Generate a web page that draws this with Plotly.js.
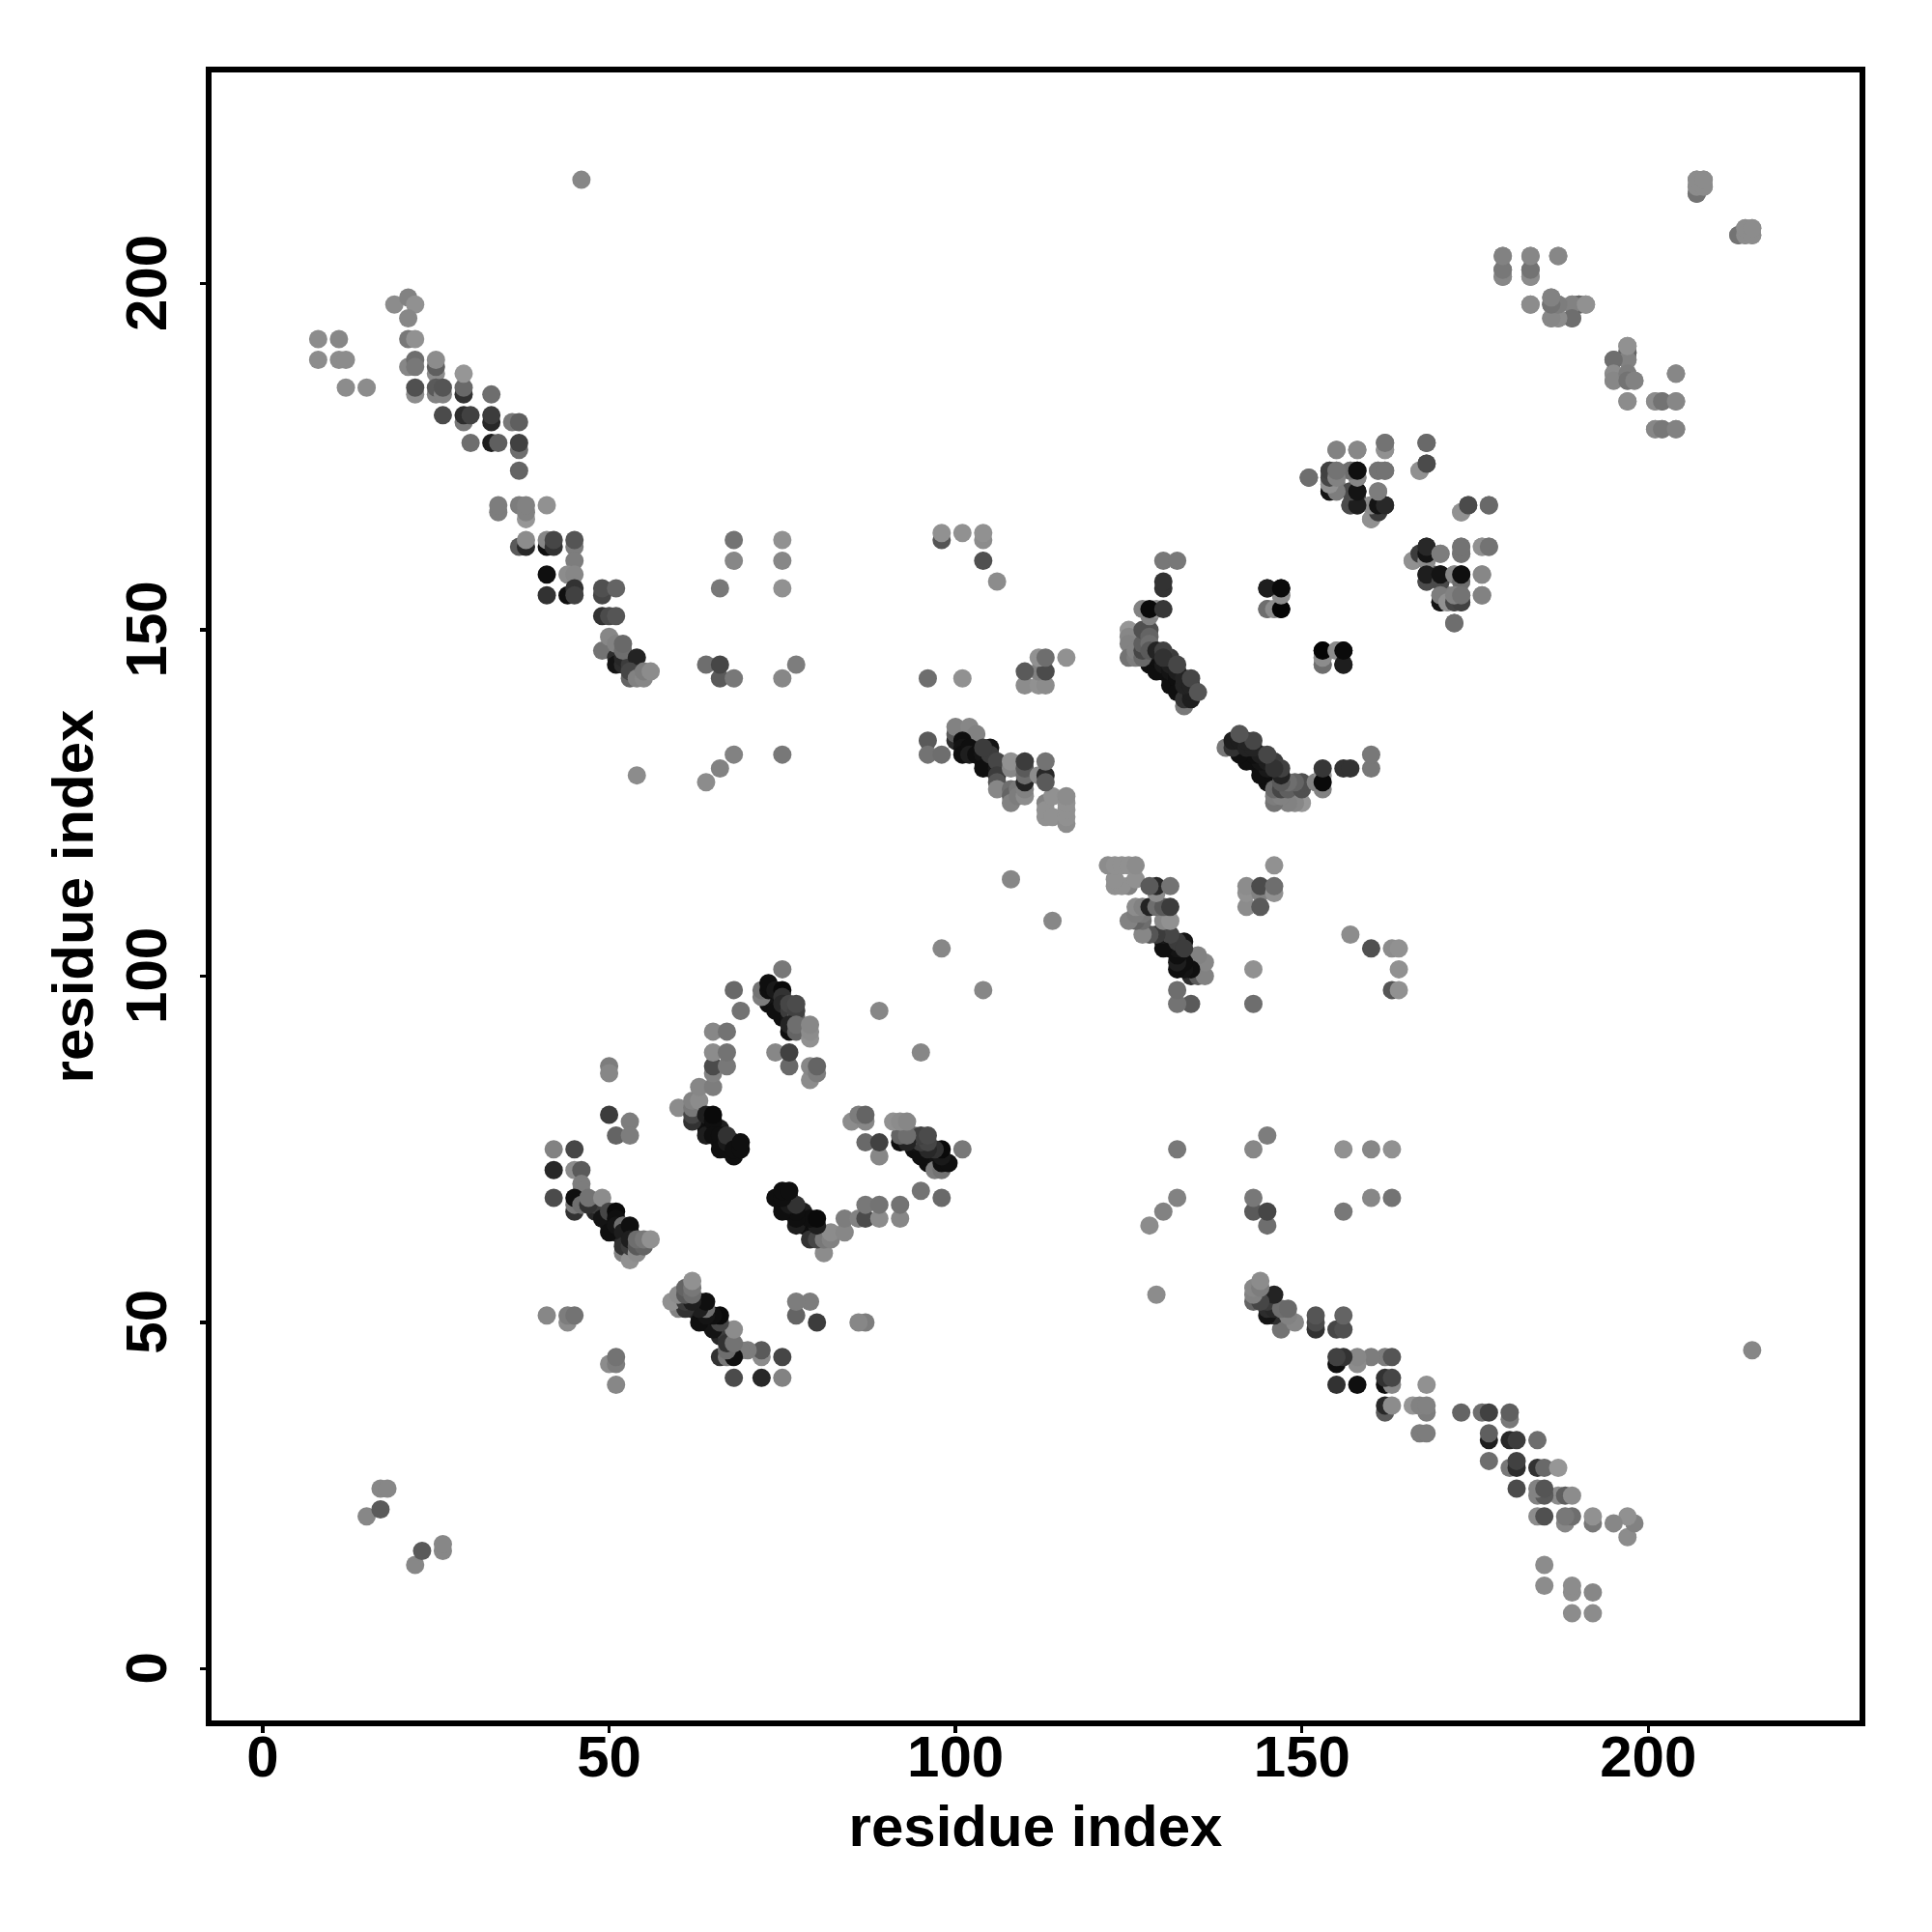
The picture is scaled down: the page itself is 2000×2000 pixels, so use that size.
<!DOCTYPE html>
<html>
<head>
<meta charset="utf-8">
<script src="https://cdn.plot.ly/plotly-3.0.1.min.js"></script>
<style>html,body{margin:0;padding:0;background:#fff}</style>
</head>
<body>
<div id="chart" style="width:2000px;height:2000px"></div>
<script>
// Each contact is [residue i, residue j, grey level]; the map is symmetric in i and j.
const tickValues = [0, 50, 100, 150, 200];
const axisTitle = "residue index";
const contactsFar = [[15,22,135],[17,23,90],[17,26,135],[18,26,135],[46,215,135],[89,95,135],[98,104,135],[108,114,135]];
const contactsBandN = [[8,192,140],[11,192,135],[8,189,140],[11,189,140],[12,189,140],[12,185,140],[15,185,140],
 [19,197,140],[21,198,130],[22,197,145],[21,195,135],[21,192,120],[22,192,145],[21,188,135],[22,189,110],[22,188,120],
 [25,187,140],[25,188,95],[25,189,140],[29,184,50],[29,185,105],[29,187,150],
 [22,184,140],[22,185,80],[25,184,130],[25,185,90],[26,184,130],[26,185,85],[33,184,110],
 [29,180,120],[26,181,75],[29,181,45],[30,181,65],[33,180,40],[33,181,60],[36,180,120],[37,180,95],
 [30,177,110],[33,177,30],[34,177,95],[37,176,110],[37,177,65],[37,173,100]];
const contactsBandM = [[34,167,125],[34,168,125],[37,168,125],[38,166,150],[38,167,130],[38,168,130],[41,168,145],
 [37,162,90],[38,162,40],[38,163,140],[41,162,15],[41,163,135],[42,162,50],[42,163,70],[45,162,125],[45,163,85],
 [45,160,125],[44,158,140],[45,158,135],[41,158,15],[41,155,50],[44,155,15],[45,156,50],[45,155,65],
 [49,155,70],[49,156,80],[51,156,100],[49,152,50],[50,152,75],[51,152,85],
 [49,147,115],[50,149,135],[51,146,45],[51,145,20],[52,145,45],[52,146,40],[53,145,60],[51,148,130],[52,147,110],[52,148,105],[54,146,35],
 [53,143,100],[53,144,70],[54,143,130],[55,143,135],[55,144,125],[56,144,140]];
const contactsSide = [[68,163,115],[75,163,145],[68,160,135],[75,160,135],[66,156,120],[75,156,145],
 [64,145,110],[66,143,90],[66,145,70],[68,143,120],[77,145,125],[75,143,135],[68,132,130],[75,132,120],[66,130,130],[64,128,140],[54,129,140],
 [98,163,85],[98,164,145],[101,164,145],[104,163,140],[104,164,145],[104,160,80],[106,157,140],[96,143,110],[101,143,145],
 [110,142,140],[112,142,145],[113,142,140],[112,144,130],[110,144,90],[113,144,75],[112,146,145],[113,146,110],[116,146,145]];
const contactsSheetA = [[96,134,90],[96,132,115],[98,132,110],
 [102,134,20],[103,133,15],[104,131,15],[105,131,15],[105,130,20],
 [100,134,45],[100,135,90],[100,136,130],[102,136,135],[103,135,130],[101,134,15],[101,133,20],[101,132,15],[102,133,15],[102,132,30],
 [103,132,15],[104,132,20],[104,130,15],[105,133,20],[105,132,60],[104,133,60],
 [106,130,25],[106,131,70],[106,129,60],[106,128,85],[106,127,135],
 [108,127,110],[108,126,100],[108,125,130],[108,130,135],[108,131,145],[109,127,120],[109,126,125],
 [110,126,140],[110,127,130],[110,128,35],[110,129,110],[110,130,90],[110,131,60],
 [112,129,140],[113,125,130],[113,123,145],[113,124,145],[114,123,145],[114,126,145],[113,129,40],[113,131,115],[113,128,90],
 [116,122,140],[116,123,145],[116,124,145],[116,125,145],[116,126,140]];
const contactsSheetB = [[129,145,15],[130,144,15],[131,143,15],[132,142,15],
 [128,145,15],[128,146,15],[129,144,15],[129,146,15],[130,145,25],[131,142,15],[131,144,20],[132,143,15],[133,141,15],[132,141,15],
 [133,139,120],[133,140,50],[134,140,30],[134,141,30],[125,150,150],[125,149,135],[125,148,130],[125,146,115],[126,146,125],[126,147,130],
 [127,146,105],[127,147,70],[127,148,95],[127,150,80],[128,150,80],[128,149,100],[128,148,110],[128,147,90],
 [133,142,35],[131,145,30],[132,144,30],[133,143,35],[134,142,35],[131,146,60],
 [129,147,35],[130,147,65],[130,146,50],[132,145,70],[134,143,70],[135,141,85],
 [128,152,130],[129,153,145],[127,153,130],[128,153,10],[130,153,55],[130,156,50],[130,157,50],[130,160,120],[132,160,120]];
const contactsPairs = [[145,153,130],[146,153,145],[147,153,5],[145,156,30],[147,155,140],[147,156,10],
 [153,145,110],[153,146,140],[153,147,5],[155,147,140],[156,145,30],[156,147,10]];
const contactsClusterTop = [[151,172,105],[155,176,140],[158,176,140],[162,176,145],[162,177,125],[168,177,105],[167,173,145],[168,174,85],
 [154,170,40],[154,171,135],[154,172,100],[154,173,105],[155,170,130],[155,171,125],[155,172,125],[155,173,120],
 [157,173,145],[158,172,130],[158,173,25],[157,170,90],[157,168,90],[158,170,25],[158,169,80],[158,168,35],
 [161,173,130],[162,173,115],[161,170,135],[160,166,145],[160,168,145],[161,167,60],[161,168,15],[162,168,50]];
const contactsClusterRight = [[173,167,145],[174,168,75],[177,168,105],[166,160,145],[167,161,60],[168,160,140],[168,161,20],[168,162,40],
 [170,161,125],[173,161,115],[173,162,115],[176,162,145],[177,162,115],
 [168,157,75],[168,158,30],[170,157,75],[170,158,20],[172,158,135],[173,157,110],[173,158,15],[176,158,135],[176,155,130],
 [170,154,20],[170,155,125],[171,154,145],[172,154,70],[173,154,65],[172,155,130],[173,155,115],[172,151,110]];
const contactsCTerm = [[179,204,135],[183,204,135],[187,204,145],[179,201,140],[179,202,120],[183,201,135],[183,202,110],
 [183,197,140],[186,197,110],[186,198,130],[187,197,135],[186,195,145],[187,195,145],[189,197,140],[190,197,110],[191,197,140],[189,195,110],
 [197,190,100],[197,189,130],[197,191,145],[195,189,110],[195,187,140],[195,186,135],[197,187,125],[197,186,115],[198,186,130],[204,187,135],
 [197,183,140],[201,183,140],[202,183,115],[204,183,135],[201,179,135],[202,179,120],[204,179,130],
 [207,213,120],[207,214,140],[207,215,140],[208,214,145],[208,215,145],[213,207,115],[214,207,140],[214,208,140],[215,207,140],[215,208,140]];
const contactsStrandA = [[48,66,40],[49,66,25],[50,65,15],[50,64,15],[51,63,30],[52,62,40],[53,63,40],[48,67,60],
 [42,75,130],[45,75,70],[42,72,40],[45,72,140],[46,72,90],[46,70,125],[46,69,125],[42,68,75],
 [45,66,50],[45,67,120],[45,68,15],[46,67,110],[47,67,50],[47,68,115],[49,68,140],
 [49,65,20],[50,63,15],[50,66,70],[51,66,10],[51,65,15],[51,64,20],[52,64,110],[52,63,30],[53,64,15],
 [52,60,130],[52,61,50],[53,59,145],[53,61,60],[53,62,30],[54,60,140],[54,61,90],[55,61,100],[54,62,110],[55,62,120],[56,62,145],
 [50,87,125],[50,86,135],[50,80,60],[53,79,125],[51,77,100],[53,77,125],[41,51,135],[44,50,140],[44,51,125],[45,51,115]];
const contactsStrandB = [[63,80,40],[64,79,15],[64,78,15],[65,78,15],[66,76,15],[67,75,15],[66,78,30],[68,76,20],
 [60,81,140],[62,79,50],[62,80,70],[62,81,120],[62,82,130],[63,82,140],[63,84,135],[65,84,125],
 [64,77,30],[64,80,30],[65,79,15],[65,80,10],[65,77,15],[66,77,15],[66,75,15],[67,76,25],[67,77,50],[68,74,15],[68,75,15],[69,75,15],[69,76,15],
 [65,86,130],[65,87,75],[67,87,120],[65,89,140],[67,89,115],[65,92,135],[67,92,115],[68,98,105],[69,95,115]];
const contactsStrandC = [[73,96,15],[74,97,15],[74,96,15],[75,95,15],[75,94,15],
 [73,97,20],[72,97,125],[72,98,115],[73,98,15],[73,99,15],[74,98,25],[75,98,10],[75,97,50],[74,95,15],[75,96,40],
 [76,94,20],[76,95,60],[76,96,70],[77,94,100],[77,95,65],[77,96,75],[76,92,15],[76,93,35],[77,92,100],[77,93,110],
 [79,91,145],[79,92,140],[79,93,135],[75,101,120],[74,89,135],[76,87,105],[76,89,65],[79,85,140],[79,87,135],[80,86,125],[80,87,100]];

const contactGroups = [contactsFar, contactsBandN, contactsBandM, contactsSide, contactsSheetA, contactsSheetB, contactsPairs,
  contactsClusterTop, contactsClusterRight, contactsCTerm, contactsStrandA, contactsStrandB, contactsStrandC];
const xs = [], ys = [], cols = [];
for (const group of contactGroups) {
  for (const [i, j, g] of group) {
    xs.push(i, j); ys.push(j, i);
    const c = `rgb(${g},${g},${g})`;
    cols.push(c, c);
  }
}
const axisFont = {family: '"Liberation Sans", Arial, sans-serif', size: 60, color: '#000', weight: 700};
const commonAxis = {
  tickmode: 'array', tickvals: tickValues,
  showgrid: false, zeroline: false, showline: true, mirror: true, linecolor: '#000', linewidth: 6,
  ticks: 'outside', ticklen: 6.5, tickwidth: 3.5, tickcolor: '#000', tickfont: axisFont
};
Plotly.newPlot('chart', [{
  type: 'scatter', mode: 'markers', x: xs, y: ys,
  marker: {size: 19, color: cols, line: {width: 0}}, hoverinfo: 'x+y'
}], {
  width: 2000, height: 2000, showlegend: false,
  paper_bgcolor: '#fff', plot_bgcolor: '#fff',
  margin: {l: 219, r: 75, t: 74.7, b: 218.7, pad: 0},
  xaxis: Object.assign({}, commonAxis, {range: [-7.39, 230.5], ticktext: tickValues.map(String),
    title: {text: axisTitle, font: axisFont, standoff: 20}, ticklabelstandoff: -27}),
  yaxis: Object.assign({}, commonAxis, {range: [-7.47, 230.5], ticktext: tickValues.map(v => v + '\u00A0'),
    title: {text: axisTitle, font: axisFont, standoff: 4}, tickangle: -90, ticklabelstandoff: 11})
}, {displayModeBar: false, staticPlot: true});
</script>
</body>
</html>
